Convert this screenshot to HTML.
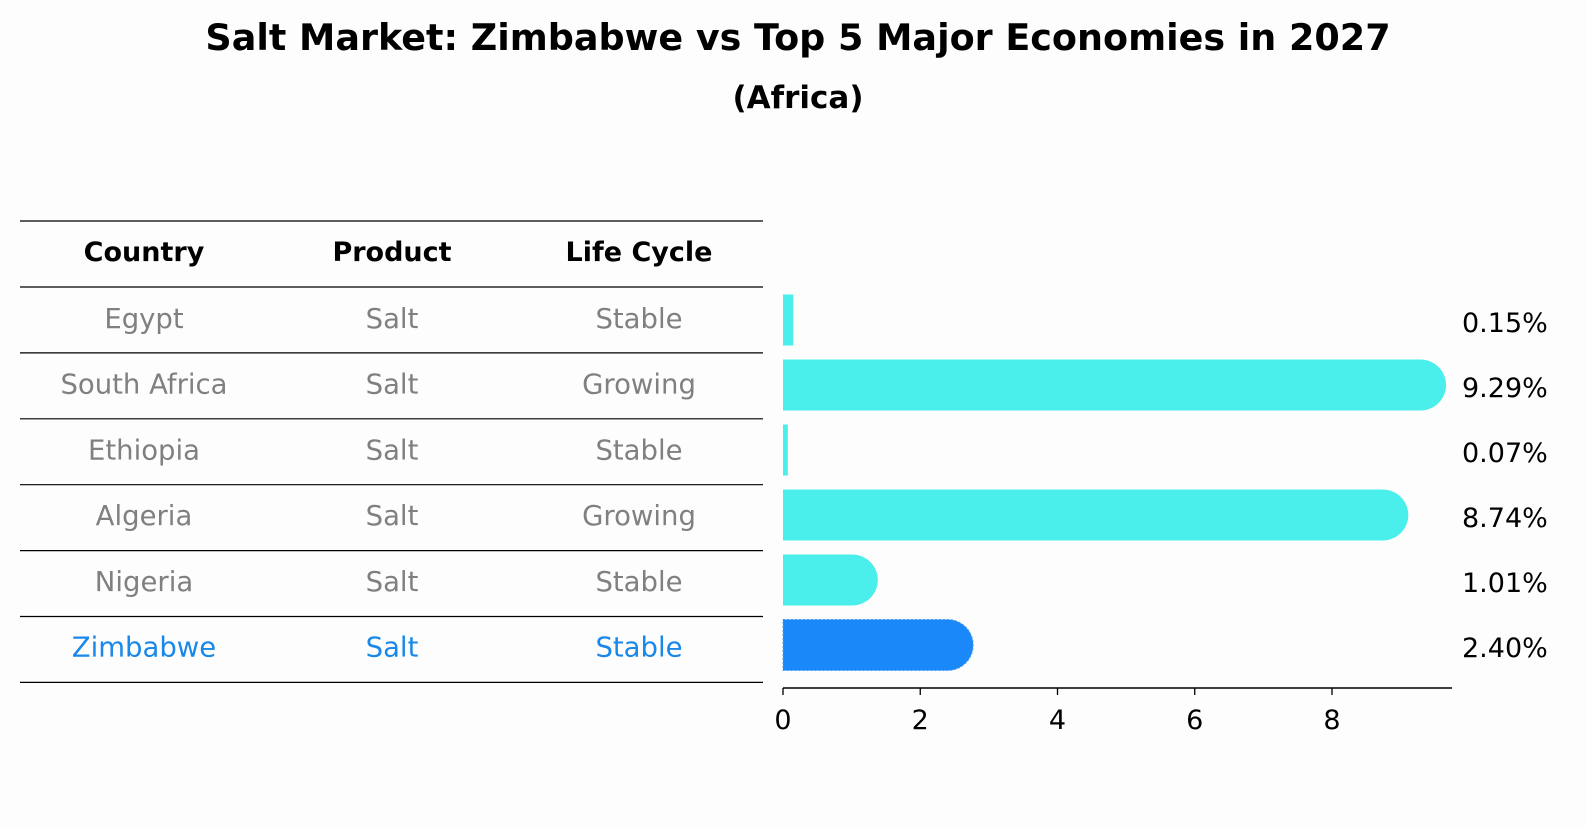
<!DOCTYPE html>
<html><head><meta charset="utf-8"><style>
body{margin:0;background:#fdfdfd;font-family:"Liberation Sans","DejaVu Sans",sans-serif;}
</style></head><body>
<svg id="c" width="1586" height="823" xmlns="http://www.w3.org/2000/svg" font-family="DejaVu Sans, Liberation Sans, sans-serif">
<rect width="1586" height="823" fill="#fdfdfd"/>
<text x="798" y="50" text-anchor="middle" font-size="36.5" font-weight="bold">Salt Market: Zimbabwe vs Top 5 Major Economies in 2027</text>
<text x="798" y="108" text-anchor="middle" font-size="31" font-weight="bold">(Africa)</text>
<g id="tbl"></g>
<g id="bars"></g>
</svg>
<script>
const countries=["Egypt","South Africa","Ethiopia","Algeria","Nigeria","Zimbabwe"];
const products=["Salt","Salt","Salt","Salt","Salt","Salt"];
const lifeCycles=["Stable","Growing","Stable","Growing","Stable","Stable"];
const values=[0.15,9.29,0.07,8.74,1.01,2.40];
const xTicks=[0,2,4,6,8];
const NS="http://www.w3.org/2000/svg";
function mk(t,a,p){const e=document.createElementNS(NS,t);for(const k in a)e.setAttribute(k,a[k]);p.appendChild(e);return e;}
const tbl=document.getElementById('tbl'),bars=document.getElementById('bars');
const cols=[144,392,639];
const rowY=i=>318+i*65.7;
const lineYs=[221,287];
for(let i=0;i<countries.length;i++)lineYs.push(287+(i+1)*65.9);
lineYs.forEach((y,i)=>{const l=mk('line',{x1:20,x2:763,y1:y,y2:y,stroke:'#000','stroke-width':1.2},tbl);

});
["Country","Product","Life Cycle"].forEach((h,j)=>{const t=mk('text',{x:cols[j],y:261,'text-anchor':'middle','font-size':'27','font-weight':'bold'},tbl);t.textContent=h;

});
countries.forEach((c,i)=>{const col=c==="Zimbabwe"?"#1a88e8":"#808080";
[c,products[i],lifeCycles[i]].forEach((v,j)=>{const t=mk('text',{x:cols[j],y:rowY(i)+10,'text-anchor':'middle','font-size':'27.5',fill:col},tbl);t.textContent=v;

});});
const x0=783,sc=(1332-783)/8;
const X=v=>x0+v*sc;
const barY=i=>320+i*65,bh=51,r=25.5;
values.forEach((v,i)=>{const zim=countries[i]==="Zimbabwe";const fill=zim?"#1a88f8":"#4aeeea";
const xe=X(v),yt=barY(i)-bh/2;let d;
if(v>0.5){d=`M${x0},${yt}H${xe}A${r},${r} 0 0 1 ${xe},${yt+bh}H${x0}Z`;}
else d=`M${x0},${yt}H${xe}V${yt+bh}H${x0}Z`;
const p=mk('path',{d:d,fill:fill},bars);
if(zim){p.setAttribute('stroke','#4aa0f0');p.setAttribute('stroke-dasharray','2,2');p.setAttribute('stroke-width','1');}


const t=mk('text',{x:1462,y:barY(i)+12,'font-size':'27'},bars);t.textContent=v.toFixed(2)+'%';

});
const ax=mk('line',{x1:x0,x2:1452,y1:688,y2:688,stroke:'#000','stroke-width':1.5},bars);


xTicks.forEach(v=>{const l=mk('line',{x1:X(v),x2:X(v),y1:688,y2:695,stroke:'#000','stroke-width':1.3},bars);


const t=mk('text',{x:X(v),y:729,'text-anchor':'middle','font-size':'27'},bars);t.textContent=v;

});
</script>
</body></html>
